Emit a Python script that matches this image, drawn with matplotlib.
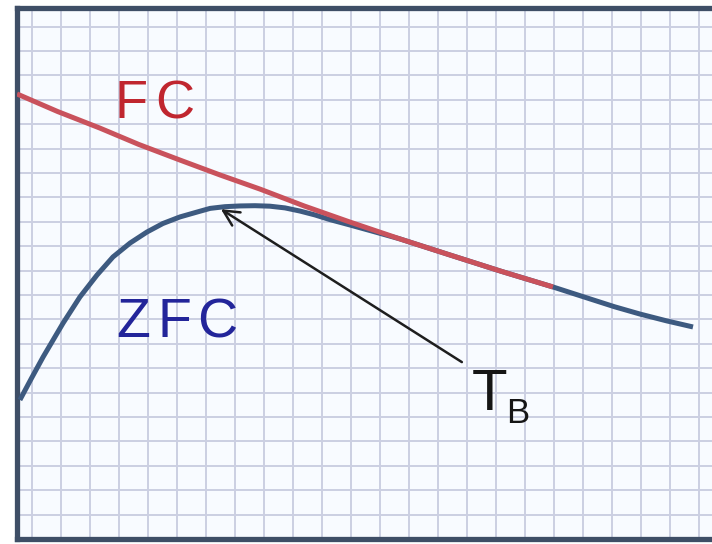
import numpy as np
import matplotlib
matplotlib.use("Agg")
import matplotlib.pyplot as plt

plt.rcParams["font.family"] = ["Liberation Sans", "DejaVu Sans"]

# Temperatura (unidades de cuadrícula) y magnetización de cada curva
t_fc = [0.0, 1.4, 2.86, 4.2, 5.62, 7.0, 8.38, 9.9, 11.48, 13.2, 14.93, 16.7, 18.48]
m_fc = [18.24, 17.52, 16.84, 16.17, 15.53, 14.92, 14.34, 13.65, 12.99, 12.30, 11.64, 10.97, 10.33]

t_zfc = [0.10, 0.50, 0.90, 1.59, 2.17, 2.76, 3.31, 3.90, 4.48, 5.03, 5.62, 6.21,
         6.66, 7.17, 7.69, 8.21, 8.72, 9.24, 9.76, 10.28, 10.79,
         11.48, 12.3, 13.2, 14.93, 16.7, 18.48, 19.76, 20.6, 21.48, 22.4, 23.31]
m_zfc = [5.70, 6.59, 7.46, 8.85, 9.92, 10.82, 11.56, 12.13, 12.58, 12.93, 13.20, 13.40,
         13.55, 13.62, 13.65, 13.66, 13.64, 13.57, 13.44, 13.28, 13.09,
         12.87, 12.60, 12.30, 11.64, 10.97, 10.33, 9.84, 9.52, 9.22, 8.94, 8.69]

t_bloqueo = (7.03, 13.52)   # punta de la flecha
t_etiqueta = (15.34, 7.25)  # origen de la flecha

fig = plt.figure(figsize=(7.12, 5.44), dpi=100)
ax = fig.add_axes([17 / 712, 5 / 544, 695 / 712, 531 / 544])
ax.set_facecolor("#f8fbff")
ax.set_xlim(0, 695 / 29)
ax.set_ylim(0, 531 / 24.4)

# cuadrícula de papel milimetrado
ax.set_xticks(np.arange(0.5, 24, 1))
ax.set_yticks(np.arange(1, 22, 1))
ax.grid(True, color="#cbcfe2", lw=1.4)
ax.tick_params(length=0, labelbottom=False, labelleft=False)
ax.set_axisbelow(True)

for lado in ["left", "top", "bottom"]:
    ax.spines[lado].set_linewidth(3.8)
    ax.spines[lado].set_color("#3e4e66")
ax.spines["right"].set_visible(False)

ax.plot(t_zfc, m_zfc, color="#3d5a80", lw=3.6, solid_capstyle="butt",
        solid_joinstyle="round", zorder=3)
ax.plot(t_fc, m_fc, color="#c9525c", lw=3.6, solid_capstyle="butt",
        solid_joinstyle="round", zorder=4)

ax.annotate("", xy=t_bloqueo, xytext=t_etiqueta,
            arrowprops=dict(arrowstyle="->", color="#1e1e1e", lw=1.8,
                            mutation_scale=28, shrinkA=0, shrinkB=0),
            zorder=5)

# etiquetas letra a letra para repartirlas a lo ancho
for letra, x in zip("FC", [3.95, 5.45]):
    ax.text(x, 17.25, letra, color="#c0262f", fontsize=39, ha="center", va="baseline")
for letra, x in zip("ZFC", [4.0, 5.42, 6.90]):
    ax.text(x, 8.26, letra, color="#23259a", fontsize=40, ha="center", va="baseline")
ax.text(16.28, 5.29, "T", color="#151515", fontsize=42, ha="center", va="baseline")
ax.text(17.25, 4.75, "B", color="#151515", fontsize=25, ha="center", va="baseline")

fig.savefig("out.png", dpi=100)
